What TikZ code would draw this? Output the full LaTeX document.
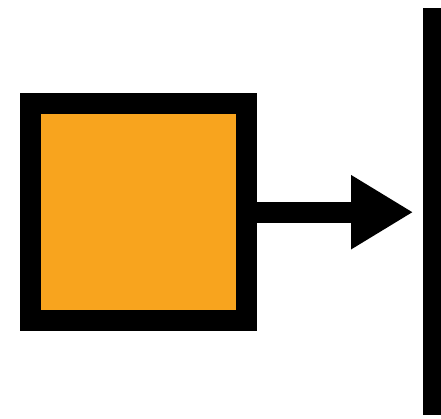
\documentclass[tikz,border=0pt]{standalone}
\usetikzlibrary{arrows.meta}
\definecolor{boxorange}{RGB}{248,164,30}
\begin{document}
\begin{tikzpicture}[x=1pt,y=1pt,
  boxstyle/.style={draw=black,fill=boxorange,line width=21pt,rectangle,inner sep=0pt,minimum width=216pt,minimum height=216.5pt},
  barstyle/.style={fill=black,rectangle,inner sep=0pt,minimum width=21.7pt,minimum height=407pt},
  arrowstyle/.style={line width=21pt,-{Triangle[length=61.3pt,width=74.6pt,line width=0pt]}}]
\useasboundingbox (0,0) rectangle (441,418);
\node[boxstyle] (box) at (138.5,205.8) {};
\node[barstyle] (bar) at (434.15,206.5) {};
\coordinate (tip) at (412.3,205.8);
\draw[arrowstyle] (box.east) -- (tip);
\end{tikzpicture}
\end{document}
